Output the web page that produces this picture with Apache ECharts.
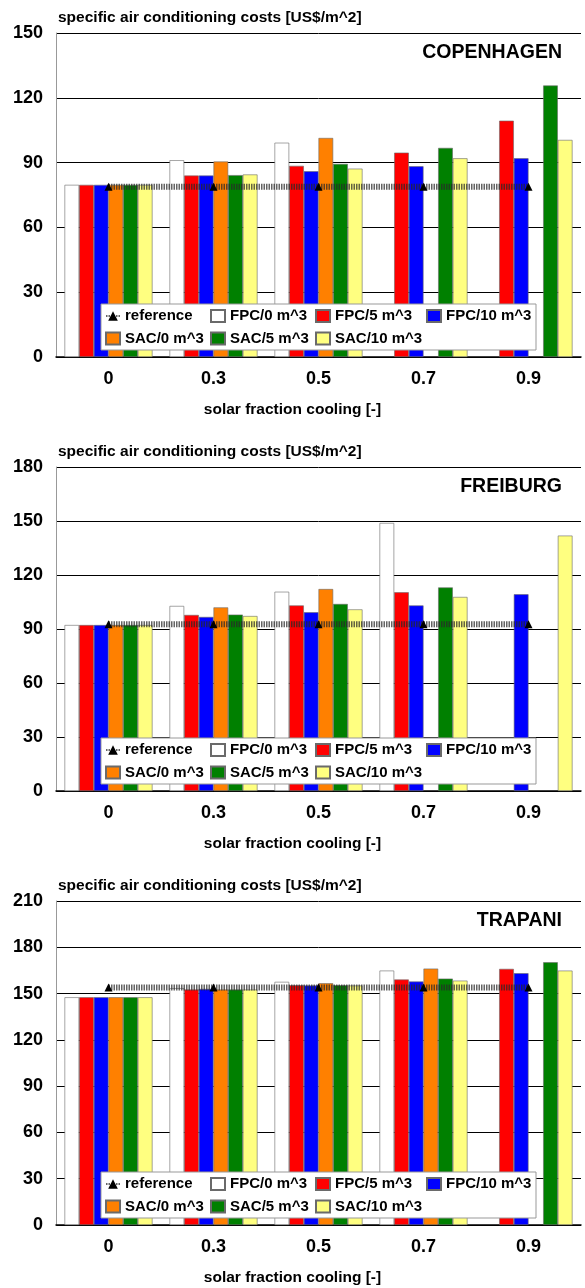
<!DOCTYPE html>
<html>
<head>
<meta charset="utf-8">
<script src="https://cdn.jsdelivr.net/npm/echarts@6/dist/echarts.min.js"></script>
<style>
  html, body { margin: 0; padding: 0; background: #fff; }
  #chart { width: 585px; height: 1288px; }
</style>
</head>
<body>
<div id="chart"></div>
<script>
// Solar fraction cooling categories (x axis)
const categories = ['0', '0.3', '0.5', '0.7', '0.9'];
const seriesNames = ['FPC/0 m^3', 'FPC/5 m^3', 'FPC/10 m^3', 'SAC/0 m^3', 'SAC/5 m^3', 'SAC/10 m^3'];

// Copenhagen, specific air conditioning costs [US$/m^2]
const cphReference = [78.8, 78.8, 78.8, 78.8, 78.8];
const cphFpc0  = [79.7, 91.1, 99.2, null, null];
const cphFpc5  = [79.7, 84.0, 88.5, 94.6, 109.4];
const cphFpc10 = [79.7, 84.0, 86.0, 88.3, 92.0];
const cphSac0  = [79.7, 90.5, 101.4, null, null];
const cphSac5  = [79.7, 84.2, 89.4, 96.8, 125.7];
const cphSac10 = [79.7, 84.5, 87.2, 92.0, 100.5];

// Freiburg
const frbReference = [92.6, 92.6, 92.6, 92.6, 92.6];
const frbFpc0  = [92.2, 102.8, 110.7, 148.9, null];
const frbFpc5  = [92.2, 97.8, 103.1, 110.4, null];
const frbFpc10 = [92.2, 96.7, 99.3, 103.1, 109.3];
const frbSac0  = [92.2, 102.0, 112.2, null, null];
const frbSac5  = [92.2, 98.0, 103.9, 113.1, null];
const frbSac10 = [92.2, 97.2, 100.9, 107.8, 141.9];

// Trapani
const trpReference = [153.9, 153.9, 153.9, 153.9, 153.9];
const trpFpc0  = [147.6, 153.5, 157.6, 164.9, null];
const trpFpc5  = [147.6, 152.6, 155.4, 159.1, 166.0];
const trpFpc10 = [147.6, 153.0, 155.2, 157.8, 163.2];
const trpSac0  = [147.6, 152.6, 156.7, 166.2, null];
const trpSac5  = [147.6, 152.6, 155.4, 159.7, 170.3];
const trpSac10 = [147.6, 152.6, 155.2, 158.4, 164.9];

// Y axis ranges per panel
const yMax = [150, 180, 210];
const yStep = 30;

const panels = [
  { city: 'COPENHAGEN', ref: cphReference, bars: [cphFpc0, cphFpc5, cphFpc10, cphSac0, cphSac5, cphSac10] },
  { city: 'FREIBURG',   ref: frbReference, bars: [frbFpc0, frbFpc5, frbFpc10, frbSac0, frbSac5, frbSac10] },
  { city: 'TRAPANI',    ref: trpReference, bars: [trpFpc0, trpFpc5, trpFpc10, trpSac0, trpSac5, trpSac10] }
];

const barColors = ['#ffffff', '#ff0000', '#0000ff', '#ff8000', '#008000', '#ffff80'];
const FONT = '"Liberation Sans", Arial, sans-serif';

// layout of each panel
const panelTop = [33, 467, 901];
const panelH = 324;
const gridLeft = 56, gridRight = 4;

const grids = [], xAxes = [], yAxes = [], series = [], legends = [], graphics = [];

function legendItem(name) {
  return name === 'reference' ? { name: name } : { name: name, icon: 'rect' };
}

panels.forEach((p, i) => {
  const top = panelTop[i];
  const bottom = top + panelH;
  grids.push({ left: gridLeft, right: gridRight, top: top, height: panelH, containLabel: false });
  xAxes.push({
    type: 'category', gridIndex: i, data: categories,
    axisLine: { lineStyle: { color: '#000', width: 1.5 } },
    axisTick: { show: false },
    axisLabel: { color: '#000', fontFamily: FONT, fontWeight: 'bold', fontSize: 18, margin: 13 }
  });
  yAxes.push({
    type: 'value', gridIndex: i, min: 0, max: yMax[i], interval: yStep,
    axisLine: { show: true, lineStyle: { color: '#999', width: 1 } },
    axisTick: { show: false },
    axisLabel: { color: '#000', fontFamily: FONT, fontWeight: 'bold', fontSize: 18, margin: 13 },
    splitLine: { lineStyle: { color: '#000', width: 1 } }
  });

  p.bars.forEach((vals, k) => {
    series.push({
      type: 'bar', name: seriesNames[k], xAxisIndex: i, yAxisIndex: i,
      data: vals, barGap: '0%', barCategoryGap: '16.2%',
      itemStyle: { color: barColors[k], borderColor: '#6a6a6a', borderWidth: 0.6 },
      emphasis: { disabled: true }, z: 2
    });
  });

  // reference cost as a thick hatched line with triangle markers
  series.push({
    type: 'line', name: 'reference', xAxisIndex: i, yAxisIndex: i,
    data: p.ref, symbol: 'triangle', symbolSize: 8,
    itemStyle: { color: '#000' },
    lineStyle: { color: 'rgba(40,40,40,0.72)', width: 6, type: [1.5, 1] },
    emphasis: { disabled: true }, z: 5
  });

  // legend frame
  const boxTop = bottom - 53;
  graphics.push({
    type: 'rect', z: 50,
    shape: { x: 101, y: boxTop, width: 435, height: 46 },
    style: { fill: '#fff', stroke: '#999', lineWidth: 1 }
  });
  const cols = [
    { x: 105, items: ['reference', 'SAC/0 m^3'] },
    { x: 210, items: ['FPC/0 m^3', 'SAC/5 m^3'] },
    { x: 315, items: ['FPC/5 m^3', 'SAC/10 m^3'] },
    { x: 426, items: ['FPC/10 m^3'] }
  ];
  cols.forEach(c => {
    legends.push({
      orient: 'vertical', left: c.x, top: boxTop + 4, padding: 0,
      itemWidth: 14, itemHeight: 12, itemGap: 6.6, z: 60,
      selectedMode: false, data: c.items.map(legendItem),
      textStyle: { color: '#000', fontFamily: FONT, fontWeight: 'bold', fontSize: 15, lineHeight: 16 }
    });
  });

  // panel texts
  graphics.push({
    type: 'text', left: 58, top: top - 23, z: 60,
    style: { text: 'specific air conditioning costs [US$/m^2]', fill: '#000', font: 'bold 15.5px ' + FONT }
  });
  graphics.push({
    type: 'text', right: 23, top: top + 10, z: 60,
    style: { text: p.city, fill: '#000', font: 'bold 19.5px ' + FONT }
  });
  graphics.push({
    type: 'text', left: 'center', top: bottom + 45, z: 60,
    style: { text: 'solar fraction cooling [-]', fill: '#000', font: 'bold 15.5px ' + FONT }
  });
});

const chart = echarts.init(document.getElementById('chart'), null, { renderer: 'canvas' });
chart.setOption({
  animation: false,
  backgroundColor: '#fff',
  grid: grids,
  xAxis: xAxes,
  yAxis: yAxes,
  legend: legends,
  series: series,
  graphic: graphics
});
</script>
</body>
</html>
